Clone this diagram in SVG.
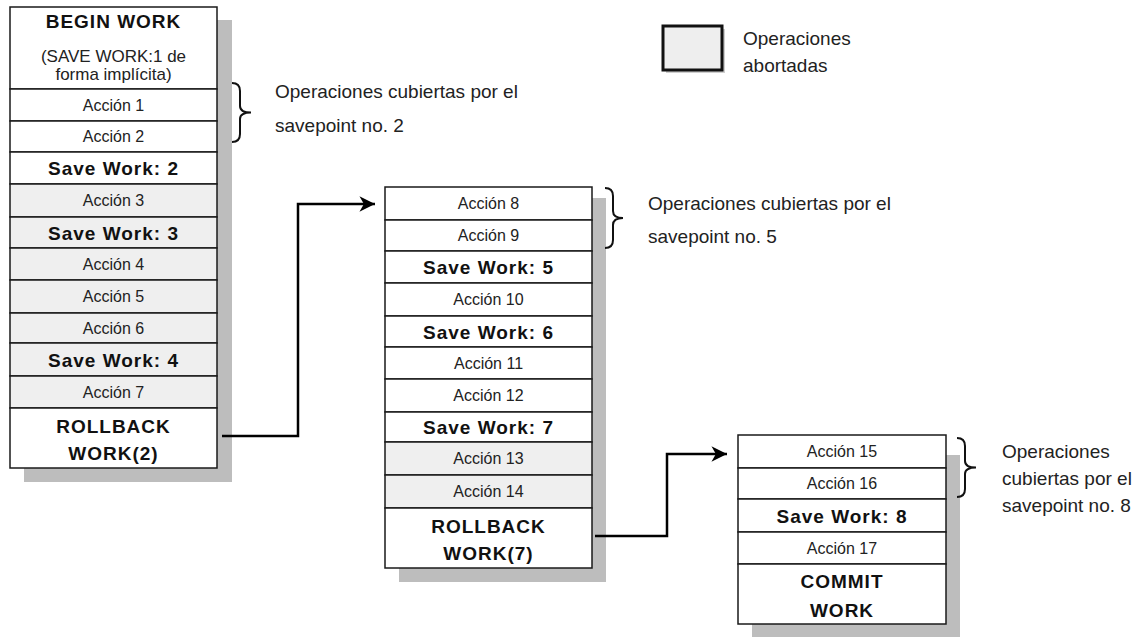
<svg xmlns="http://www.w3.org/2000/svg" width="1139" height="637" viewBox="0 0 1139 637">
<style>
.bg{fill:#ffffff}
.sh{fill:#bdbdbd}
.r{fill:#ffffff;stroke:#1a1a1a;stroke-width:1.5}
.ab{fill:#efefef;stroke:#1a1a1a;stroke-width:1.5}
.t{font-family:"Liberation Sans",Arial,sans-serif;font-size:16px;fill:#222;text-anchor:middle}
.s{font-family:"Liberation Sans",Arial,sans-serif;font-size:17px;fill:#222;text-anchor:middle}
.b{font-family:"Liberation Sans",Arial,sans-serif;font-size:19px;font-weight:bold;letter-spacing:1px;fill:#111;text-anchor:middle}
.lbl{font-family:"Liberation Sans",Arial,sans-serif;font-size:19px;fill:#222}
.br{fill:none;stroke:#111;stroke-width:2}
.cn{fill:none;stroke:#000;stroke-width:2.5}
</style>
<defs>
<marker id="ah" markerUnits="userSpaceOnUse" markerWidth="20" markerHeight="20" refX="14" refY="0" viewBox="-1 -9 17 18" orient="auto">
<path d="M0,-7 L14,0 L0,7 L4,0 z" fill="#000"/>
</marker>
</defs>
<rect class="bg" x="0" y="0" width="1139" height="637"/>

<g id="legend">
<rect x="666" y="29" width="59" height="44" fill="#cfcfcf"/>
<rect x="663" y="26" width="59" height="44" fill="#eeeeee" stroke="#111" stroke-width="3"/>
<text class="lbl" x="743" y="45">Operaciones</text>
<text class="lbl" x="743" y="72">abortadas</text>
</g>

<g id="col1">
<rect class="sh" x="24" y="20" width="208" height="462"/>
<rect class="r" x="10" y="7" width="207" height="82"/>
<text class="b" x="113.5" y="28">BEGIN WORK</text>
<text class="s" x="113.5" y="62">(SAVE WORK:1 de</text>
<text class="s" x="113.5" y="80">forma implícita)</text>
<rect class="r" x="10" y="89" width="207" height="32"/>
<text class="t" x="113.5" y="110.5">Acción 1</text>
<rect class="r" x="10" y="121" width="207" height="31"/>
<text class="t" x="113.5" y="142">Acción 2</text>
<rect class="r" x="10" y="152" width="207" height="32"/>
<text class="b" x="113.5" y="175">Save Work: 2</text>
<rect class="ab" x="10" y="184" width="207" height="33"/>
<text class="t" x="113.5" y="206">Acción 3</text>
<rect class="ab" x="10" y="217" width="207" height="31"/>
<text class="b" x="113.5" y="239.5">Save Work: 3</text>
<rect class="ab" x="10" y="248" width="207" height="32"/>
<text class="t" x="113.5" y="269.5">Acción 4</text>
<rect class="ab" x="10" y="280" width="207" height="33"/>
<text class="t" x="113.5" y="302">Acción 5</text>
<rect class="ab" x="10" y="313" width="207" height="30"/>
<text class="t" x="113.5" y="333.5">Acción 6</text>
<rect class="ab" x="10" y="343" width="207" height="33"/>
<text class="b" x="113.5" y="366.5">Save Work: 4</text>
<rect class="ab" x="10" y="376" width="207" height="32"/>
<text class="t" x="113.5" y="397.5">Acción 7</text>
<rect class="r" x="10" y="408" width="207" height="60"/>
<text class="b" x="113.5" y="433">ROLLBACK</text>
<text class="b" x="113.5" y="460">WORK(2)</text>
</g>

<g id="col2">
<rect class="sh" x="399" y="198" width="207" height="384"/>
<rect class="r" x="385" y="187" width="207" height="33"/>
<text class="t" x="488.5" y="209">Acción 8</text>
<rect class="r" x="385" y="220" width="207" height="31"/>
<text class="t" x="488.5" y="241">Acción 9</text>
<rect class="r" x="385" y="251" width="207" height="32"/>
<text class="b" x="488.5" y="274">Save Work: 5</text>
<rect class="r" x="385" y="283" width="207" height="33"/>
<text class="t" x="488.5" y="305">Acción 10</text>
<rect class="r" x="385" y="316" width="207" height="31"/>
<text class="b" x="488.5" y="338.5">Save Work: 6</text>
<rect class="r" x="385" y="347" width="207" height="32"/>
<text class="t" x="488.5" y="368.5">Acción 11</text>
<rect class="r" x="385" y="379" width="207" height="33"/>
<text class="t" x="488.5" y="401">Acción 12</text>
<rect class="r" x="385" y="412" width="207" height="30"/>
<text class="b" x="488.5" y="434">Save Work: 7</text>
<rect class="ab" x="385" y="442" width="207" height="33"/>
<text class="t" x="488.5" y="464">Acción 13</text>
<rect class="ab" x="385" y="475" width="207" height="33"/>
<text class="t" x="488.5" y="497">Acción 14</text>
<rect class="r" x="385" y="508" width="207" height="60"/>
<text class="b" x="488.5" y="533">ROLLBACK</text>
<text class="b" x="488.5" y="560">WORK(7)</text>
</g>

<g id="col3">
<rect class="sh" x="752" y="455" width="208" height="182"/>
<rect class="r" x="738" y="435" width="208" height="33"/>
<text class="t" x="842" y="457">Acción 15</text>
<rect class="r" x="738" y="468" width="208" height="31"/>
<text class="t" x="842" y="489">Acción 16</text>
<rect class="r" x="738" y="499" width="208" height="33"/>
<text class="b" x="842" y="522.5">Save Work: 8</text>
<rect class="r" x="738" y="532" width="208" height="32"/>
<text class="t" x="842" y="553.5">Acción 17</text>
<rect class="r" x="738" y="564" width="208" height="60"/>
<text class="b" x="842" y="588">COMMIT</text>
<text class="b" x="842" y="617">WORK</text>
</g>

<g id="note1">
<path class="br" d="M232,83 Q240,83 240,91 L240,106 Q240,112.5 251,112.5 Q240,112.5 240,119 L240,134 Q240,142 232,142"/>
<text class="lbl" x="275" y="98">Operaciones cubiertas por el</text>
<text class="lbl" x="275" y="132">savepoint no. 2</text>
</g>

<g id="note2">
<path class="br" d="M605,188 Q613,188 613,196 L613,211 Q613,218 623,218 Q613,218 613,225 L613,240 Q613,248 605,248"/>
<text class="lbl" x="648" y="210">Operaciones cubiertas por el</text>
<text class="lbl" x="648" y="243">savepoint no. 5</text>
</g>

<g id="note3">
<path class="br" d="M957,438 Q965,438 965,446 L965,461 Q965,467.5 976,467.5 Q965,467.5 965,474 L965,489 Q965,497 957,497"/>
<text class="lbl" x="1002" y="458">Operaciones</text>
<text class="lbl" x="1002" y="485">cubiertas por el</text>
<text class="lbl" x="1002" y="512">savepoint no. 8</text>
</g>

<g id="connectors">
<path class="cn" d="M222,436 H298 V204 H375" marker-end="url(#ah)"/>
<path class="cn" d="M595,536 H667 V454 H727" marker-end="url(#ah)"/>
</g>
</svg>
